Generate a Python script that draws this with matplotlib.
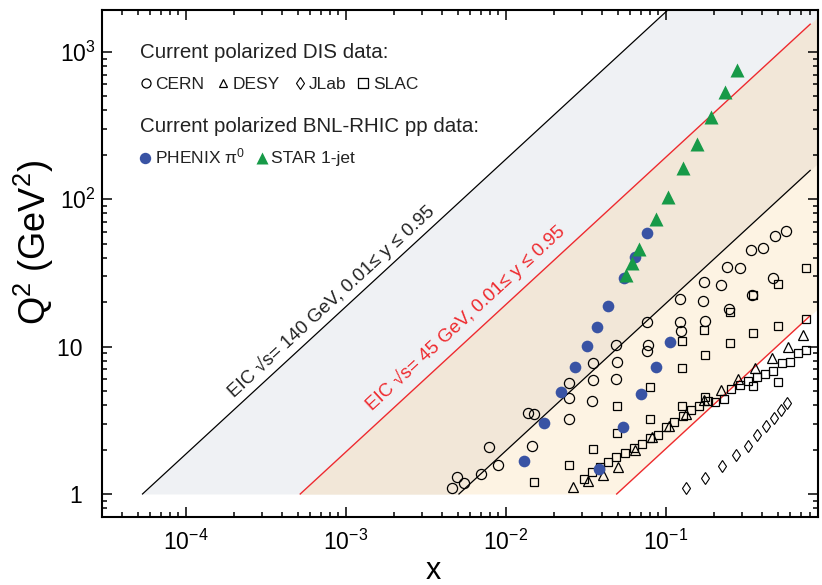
import numpy as np
import matplotlib
matplotlib.use("Agg")
import matplotlib.pyplot as plt
from matplotlib import font_manager
from matplotlib.lines import Line2D
from matplotlib.ticker import LogLocator, FuncFormatter, NullFormatter

# ---------------- data ----------------
cern_x = [0.0046, 0.00498, 0.00551, 0.00698, 0.0079, 0.00898, 0.01384, 0.01498, 0.0147,
          0.02486, 0.02486, 0.02469, 0.035, 0.035, 0.0345, 0.0489, 0.0498, 0.0489,
          0.0767, 0.0778, 0.0767, 0.1228, 0.1228, 0.1246, 0.1734, 0.1722, 0.1748,
          0.2216, 0.2469, 0.2432, 0.2911, 0.3435, 0.345, 0.4074, 0.4667, 0.482, 0.5678]
cern_q2 = [1.10, 1.294, 1.193, 1.367, 2.09, 1.578, 3.56, 3.48, 2.12,
           5.64, 4.48, 3.21, 7.70, 5.98, 4.30, 10.25, 7.90, 6.00,
           14.6, 10.25, 9.34, 20.9, 14.7, 12.8, 27.4, 20.5, 15.0,
           26.2, 17.9, 34.9, 33.9, 45.0, 22.3, 46.3, 29.2, 56.7, 60.9]

slac_x = [0.01492, 0.02494, 0.0349, 0.0498, 0.0496, 0.0798, 0.0801, 0.1256, 0.1256,
          0.1742, 0.1748, 0.2512, 0.2512, 0.3512, 0.3506, 0.501, 0.501, 0.753, 0.754,
          0.501, 0.1256, 0.1754,
          0.0307, 0.0347, 0.0390, 0.0438, 0.0491, 0.0557, 0.0634, 0.0708, 0.0798, 0.090,
          0.101, 0.113, 0.1274, 0.144, 0.162, 0.183, 0.2047, 0.2312, 0.257, 0.291,
          0.328, 0.353, 0.372, 0.419, 0.470, 0.531, 0.598, 0.669, 0.755]
slac_q2 = [1.212, 1.578, 2.03, 2.58, 3.97, 3.21, 5.32, 7.12, 10.9,
           12.96, 8.80, 10.5, 17.1, 22.4, 12.4, 26.4, 13.8, 34.0, 15.5,
           5.71, 3.98, 4.57,
           1.268, 1.406, 1.525, 1.648, 1.782, 1.906, 2.036, 2.19, 2.39, 2.53,
           2.85, 3.09, 3.38, 3.69, 3.98, 4.26, 4.18, 4.39, 5.16, 5.45,
           5.86, 5.41, 6.22, 6.52, 6.83, 7.70, 7.92, 9.09, 9.41]

desy_x = [0.02624, 0.0328, 0.0403, 0.0506, 0.0647, 0.0818, 0.1053, 0.1343,
          0.1728, 0.2208, 0.2818, 0.3614, 0.4597, 0.581, 0.7244]
desy_q2 = [1.107, 1.231, 1.352, 1.532, 1.99, 2.43, 2.91, 3.51,
           4.31, 5.08, 6.05, 7.16, 8.40, 9.94, 12.04]

jlab_x = [0.1335, 0.176, 0.2239, 0.2748, 0.3255, 0.3737, 0.4256, 0.4753, 0.5238, 0.5703]
jlab_q2 = [1.098, 1.29, 1.54, 1.848, 2.11, 2.53, 2.89, 3.28, 3.73, 4.16]

phenix_x = [0.01296, 0.0174, 0.02225, 0.0271, 0.0322, 0.0372, 0.0438, 0.0545, 0.0643,
            0.0767, 0.0385, 0.0541, 0.0704, 0.0866, 0.1064]
phenix_q2 = [1.68, 3.05, 4.92, 7.31, 10.1, 13.6, 18.9, 29.2, 40.7,
             58.7, 1.47, 2.86, 4.77, 7.24, 10.8]

star_x = [0.0562, 0.0618, 0.0684, 0.0866, 0.103, 0.129, 0.156, 0.192, 0.235, 0.280]
star_q2 = [30.6, 37.1, 45.7, 73.4, 104, 162, 237, 359, 536, 752]

# EIC kinematic reach: Q^2 = x * y * s
eic_sqrt_s = [140.0, 45.0]
y_min, y_max = 0.01, 0.95
q2_min = 1.0
x_line_max = 0.8

x_ticks = [1e-4, 1e-3, 1e-2, 1e-1]
y_ticks = [1, 10, 100, 1000]
y_tick_labels = ["1  ", "10  ", r"$10^2$", r"$10^3$"]
x_tick_labels = [r"$10^{-4}$", r"$10^{-3}$", r"$10^{-2}$", r"$10^{-1}$"]

# ---------------- style ----------------
names = {f.name for f in font_manager.fontManager.ttflist}
BASE = "Liberation Sans"
NARROW = "Liberation Sans Narrow" if "Liberation Sans Narrow" in names else BASE
plt.rcParams["font.family"] = [BASE, "DejaVu Sans"]
plt.rcParams["mathtext.fontset"] = "custom"
plt.rcParams["mathtext.rm"] = NARROW
plt.rcParams["mathtext.it"] = NARROW + ":italic"
plt.rcParams["mathtext.bf"] = NARROW + ":bold"

C_GRAY = "#eff1f4"
C_CREAM = "#fdf3e3"
C_TAN = "#f2e7d8"
C_RED = "#ee2a2e"
C_BLUE = "#3953a4"
C_GREEN = "#179a48"

W, H = 822, 585
fig = plt.figure(figsize=(W / 100, H / 100), dpi=100)
L, R, T, B = 101.7, 818.0, 10.0, 517.0
ax = fig.add_axes([L / W, (H - B) / H, (R - L) / W, (B - T) / H])
ax.set_xscale("log")
ax.set_yscale("log")
XL, XR = 2.985e-5, 0.895
YB, YT = 0.698, 1921.0
ax.set_xlim(XL, XR)
ax.set_ylim(YB, YT)

# ---------------- bands ----------------
s_hi = eic_sqrt_s[0] ** 2
s_lo = eic_sqrt_s[1] ** 2
q2 = np.logspace(0, np.log10(YT) + 0.05, 400)


def band(xl, xr, color):
    xl = np.minimum(xl, XR)
    xr = np.minimum(xr, XR)
    ax.fill_betweenx(q2, xl, xr, color=color, lw=0, zorder=0)


band(q2 / (s_hi * y_max), q2 / (s_hi * y_min), C_GRAY)
band(q2 / (s_lo * y_max), q2 / (s_lo * y_min), C_CREAM)
band(q2 / (s_lo * y_max), q2 / (s_hi * y_min), C_TAN)

for s, col, lw in [(s_hi, "black", 0.9), (s_lo, C_RED, 1.0)]:
    for yy in (y_max, y_min):
        xs = np.array([q2_min / (s * yy), x_line_max])
        ax.plot(xs, xs * s * yy, color=col, lw=lw, zorder=1)

# ---------------- data ----------------
ax.plot(cern_x, cern_q2, ls="none", marker="o", ms=7.3, mfc="none", mec="black", mew=0.9, zorder=3)
ax.plot(slac_x, slac_q2, ls="none", marker="s", ms=6.4, mfc="none", mec="black", mew=0.9, zorder=3)
ax.plot(desy_x, desy_q2, ls="none", marker="^", ms=7, mfc="none", mec="black", mew=0.9, zorder=3)
ax.plot(jlab_x, jlab_q2, ls="none", marker="d", ms=6, mfc="none", mec="black", mew=0.8, zorder=3)
ax.plot(phenix_x, phenix_q2, ls="none", marker="o", ms=8.4, mfc=C_BLUE, mec="none", zorder=4)
ax.plot(star_x, star_q2, ls="none", marker="^", ms=9.5, mfc=C_GREEN, mec="none", zorder=5)

# ---------------- axes styling ----------------
for sp in ax.spines.values():
    sp.set_linewidth(1.5)
ax.xaxis.set_major_locator(LogLocator(base=10, numticks=20))
ax.xaxis.set_minor_locator(LogLocator(base=10, subs=np.arange(2, 10), numticks=20))
ax.yaxis.set_major_locator(LogLocator(base=10, numticks=20))
ax.yaxis.set_minor_locator(LogLocator(base=10, subs=np.arange(2, 10), numticks=20))
xlab = dict(zip(x_ticks, x_tick_labels))
ylab = dict(zip(y_ticks, y_tick_labels))


def fmt_from(d):
    def f(v, pos):
        for k, lab in d.items():
            if abs(np.log10(v) - np.log10(k)) < 1e-6:
                return lab
        return ""
    return f


ax.xaxis.set_major_formatter(FuncFormatter(fmt_from(xlab)))
ax.yaxis.set_major_formatter(FuncFormatter(fmt_from(ylab)))
ax.xaxis.set_minor_formatter(NullFormatter())
ax.yaxis.set_minor_formatter(NullFormatter())
ax.tick_params(which="both", direction="in", top=True, right=True, width=1.1)
ax.tick_params(which="major", length=7)
ax.tick_params(which="minor", length=3.5)
ax.tick_params(axis="x", which="major", labelsize=16.5, pad=9)
ax.tick_params(axis="y", which="major", labelsize=16.5, pad=4.5)
for lab in ax.get_xticklabels() + ax.get_yticklabels():
    lab.set_family([NARROW, "DejaVu Sans"])

fig.text(34 / W, 1 - 242 / H, r"Q$^2$ (GeV$^2$)", rotation=90, ha="center", va="center",
         fontsize=26)
fig.text(433 / W, 1 - 579 / H, "x", ha="center", va="baseline", fontsize=22,
         family=[NARROW, "DejaVu Sans"])

# ---------------- rotated band labels ----------------
p1 = ax.transData.transform((1e-3, 1.0))
p2 = ax.transData.transform((1e-2, 10.0))
ang = np.degrees(np.arctan2(p2[1] - p1[1], p2[0] - p1[0]))
ax.text(8.5e-4, 18.9, "EIC \u221as= 140 GeV, 0.01\u2264 y \u2264 0.95", rotation=ang,
        rotation_mode="anchor", ha="center", va="baseline", fontsize=13.5, color="#222222",
        zorder=6)
ax.text(5.9e-3, 14.8, "EIC \u221as= 45 GeV, 0.01\u2264 y \u2264 0.95", rotation=ang,
        rotation_mode="anchor", ha="center", va="baseline", fontsize=13.5, color=C_RED,
        zorder=6)


# ---------------- legend block ----------------
def fx(px):
    return px / W


def fy(py):
    return 1 - py / H


TXT = "#222222"
fig.text(fx(140), fy(58.3), "Current polarized DIS data:", fontsize=14.8, va="baseline", color=TXT)
fig.text(fx(140), fy(131.7), "Current polarized BNL-RHIC pp data:", fontsize=14.8, va="baseline",
         color=TXT)


def mk(px, py, **kw):
    fig.add_artist(Line2D([fx(px)], [fy(py)], transform=fig.transFigure, ls="none", **kw))


mk(145.8, 83.5, marker="o", ms=6.5, mfc="none", mec="black", mew=0.9)
fig.text(fx(155), fy(89.3), "CERN", fontsize=12.5, va="baseline", color=TXT)
mk(223.3, 83.5, marker="^", ms=6.2, mfc="none", mec="black", mew=0.9)
fig.text(fx(232.7), fy(89.3), "DESY", fontsize=12.5, va="baseline", color=TXT)
mk(300, 83.5, marker="d", ms=6.5, mfc="none", mec="black", mew=0.8)
fig.text(fx(308.3), fy(89.3), "JLab", fontsize=12.5, va="baseline", color=TXT)
mk(363.3, 83.5, marker="s", ms=6.5, mfc="none", mec="black", mew=0.9)
fig.text(fx(373.3), fy(89.3), "SLAC", fontsize=12.5, va="baseline", color=TXT)

mk(145, 158.3, marker="o", ms=8.2, mfc=C_BLUE, mec="none")
fig.text(fx(155), fy(163.3), "PHENIX \u03c0$^0$", fontsize=12.5, va="baseline", color=TXT)
mk(261.7, 158, marker="^", ms=9, mfc=C_GREEN, mec="none")
fig.text(fx(270.7), fy(163.3), "STAR 1-jet", fontsize=12.5, va="baseline", color=TXT)

fig.savefig("out.png", dpi=100)
